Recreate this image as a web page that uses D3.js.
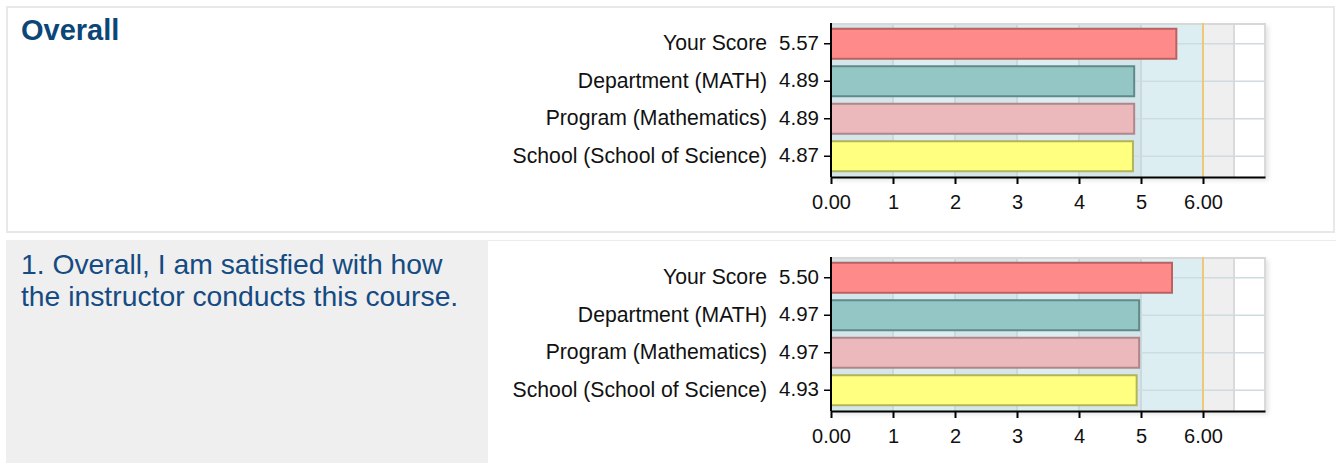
<!DOCTYPE html>
<html>
<head>
<meta charset="utf-8">
<script src="https://cdn.jsdelivr.net/npm/d3@7"></script>
<style>
  body { margin: 0; background: #fff; }
  svg { display: block; }
</style>
</head>
<body>
<div id="chart"></div>
<script>
// data
const categories = ["Your Score", "Department (MATH)", "Program (Mathematics)", "School (School of Science)"]
const overallScores = [5.57, 4.89, 4.89, 4.87]
const q1Scores = [5.50, 4.97, 4.97, 4.93]
const panelTitles = ["Overall", "1. Overall, I am satisfied with how|the instructor conducts this course."]
const xTicks = [0, 1, 2, 3, 4, 5, 6]
const xTickLabels = ["0.00", "1", "2", "3", "4", "5", "6.00"]
const barFill = ["#ff8a8a", "#95c6c6", "#ebb8bb", "#ffff80"]
const barStroke = ["#b86262", "#5f8a8a", "#b0868a", "#b3b35a"]

let width = 1336
let height = 463
let fmt = d3.format(".2f")

let svg = d3.select("#chart")
    .append("svg")
    .attr("width", width)
    .attr("height", height)
    .style("font-family", "'Liberation Sans', Arial, sans-serif")

let defs = svg.append("defs")
defs.append("filter")
    .attr("id", "shadow")
    .attr("x", "-5%").attr("y", "-5%").attr("width", "115%").attr("height", "120%")
    .append("feDropShadow")
    .attr("dx", 3).attr("dy", 3)
    .attr("stdDeviation", 2.5)
    .attr("flood-color", "#000")
    .attr("flood-opacity", 0.12)

// panel frames
svg.append("rect")
    .attr("x", 7).attr("y", 7)
    .attr("width", 1327).attr("height", 225)
    .attr("fill", "#fff")
    .attr("stroke", "#e8e8e8")
    .attr("stroke-width", 2)

svg.append("line")
    .attr("x1", 488).attr("x2", 1336)
    .attr("y1", 240.5).attr("y2", 240.5)
    .attr("stroke", "#ececec")
    .attr("stroke-width", 1)

svg.append("rect")
    .attr("x", 6).attr("y", 240)
    .attr("width", 482).attr("height", 223)
    .attr("fill", "#efefef")

// titles
svg.append("text")
    .attr("x", 21).attr("y", 40)
    .attr("fill", "#0c4679")
    .style("font-size", "29px")
    .style("font-weight", "bold")
    .text(panelTitles[0])

let q = svg.append("text")
    .attr("fill", "#154b82")
    .style("font-size", "28.3px")
panelTitles[1].split("|").forEach((line, i) => {
    q.append("tspan")
        .attr("x", 21)
        .attr("y", 274 + i * 32)
        .text(line)
})

let xScale = d3.scaleLinear()
    .domain([0, 7])
    .range([831, 1265])

function drawPanel(top, scores) {
    let bottom = top + 154
    let yScale = d3.scaleBand()
        .domain(categories)
        .range([top + 2, bottom - 2])
        .paddingInner(0.2)
        .paddingOuter(0.1)

    let g = svg.append("g")

    // plot background + shadow
    g.append("rect")
        .attr("x", xScale(0)).attr("y", top)
        .attr("width", xScale(7) - xScale(0))
        .attr("height", bottom - top)
        .attr("fill", "#fff")
        .attr("filter", "url(#shadow)")

    // alternating bands 0..6
    d3.range(0, 6).forEach(i => {
        g.append("rect")
            .attr("x", xScale(i)).attr("y", top)
            .attr("width", xScale(i + 1) - xScale(i))
            .attr("height", bottom - top)
            .attr("fill", i % 2 == 0 ? "#d5e6eb" : "#ddeef3")
    })
    g.append("rect")
        .attr("x", xScale(6)).attr("y", top)
        .attr("width", xScale(6.5) - xScale(6))
        .attr("height", bottom - top)
        .attr("fill", "#efefef")

    // grid lines
    let vlines = [1, 2, 3, 4, 5, 6.5, 7]
    vlines.forEach(v => {
        g.append("line")
            .attr("x1", xScale(v)).attr("x2", xScale(v))
            .attr("y1", top).attr("y2", bottom)
            .attr("stroke", v > 6 ? "#dadada" : "#c9d9dd")
            .attr("stroke-width", 2)
    })
    categories.forEach(c => {
        let cy = yScale(c) + yScale.bandwidth() / 2
        g.append("line")
            .attr("x1", xScale(0)).attr("x2", xScale(7))
            .attr("y1", cy).attr("y2", cy)
            .attr("stroke", "#cfdcdf")
            .attr("stroke-width", 1.5)
    })
    g.append("line")
        .attr("x1", xScale(0)).attr("x2", xScale(7))
        .attr("y1", top + 1).attr("y2", top + 1)
        .attr("stroke", "#d8d8d8")
        .attr("stroke-width", 2)

    // max-score marker
    g.append("line")
        .attr("x1", xScale(6)).attr("x2", xScale(6))
        .attr("y1", top).attr("y2", bottom)
        .attr("stroke", "#eec878")
        .attr("stroke-width", 2)

    // bars
    g.selectAll(".bar")
        .data(scores)
        .enter()
        .append("rect")
        .attr("class", "bar")
        .attr("x", xScale(0))
        .attr("y", (d, i) => yScale(categories[i]))
        .attr("width", d => xScale(d) - xScale(0))
        .attr("height", yScale.bandwidth())
        .attr("fill", (d, i) => barFill[i])
        .attr("stroke", (d, i) => barStroke[i])
        .attr("stroke-width", 2)

    // bottom axis
    let xAxis = g.append("g")
        .attr("transform", "translate(0," + bottom + ")")
        .call(d3.axisBottom(xScale)
            .tickValues(xTicks)
            .tickFormat((d, i) => xTickLabels[i])
            .tickSize(7)
            .tickSizeOuter(0))
    xAxis.select(".domain").attr("stroke", "#000").attr("stroke-width", 2)
    xAxis.selectAll(".tick line").attr("stroke", "#000").attr("stroke-width", 2)
    xAxis.selectAll(".tick text")
        .attr("fill", "#111")
        .attr("dy", "1.12em")
        .style("font-size", "20px")
        .style("font-family", "'Liberation Sans', Arial, sans-serif")

    // left axis
    let yAxis = g.append("g")
        .attr("transform", "translate(" + xScale(0) + ",0)")
        .call(d3.axisLeft(yScale).tickSize(7).tickSizeOuter(0).tickFormat(""))
    yAxis.select(".domain")
        .attr("d", "M0," + top + "V" + bottom)
        .attr("stroke", "#000").attr("stroke-width", 2)
    yAxis.selectAll(".tick line").attr("stroke", "#000").attr("stroke-width", 1.5)

    // category + value labels
    categories.forEach((c, i) => {
        let cy = yScale(c) + yScale.bandwidth() / 2
        g.append("text")
            .attr("x", 819).attr("y", cy)
            .attr("dy", "0.3em")
            .attr("text-anchor", "end")
            .attr("fill", "#111")
            .style("font-size", "20.5px")
            .text(fmt(scores[i]))
        g.append("text")
            .attr("x", 767).attr("y", cy)
            .attr("dy", "0.3em")
            .attr("text-anchor", "end")
            .attr("fill", "#111")
            .style("font-size", "21.2px")
            .text(c)
    })
}

drawPanel(23, overallScores)
drawPanel(257, q1Scores)
</script>
</body>
</html>
